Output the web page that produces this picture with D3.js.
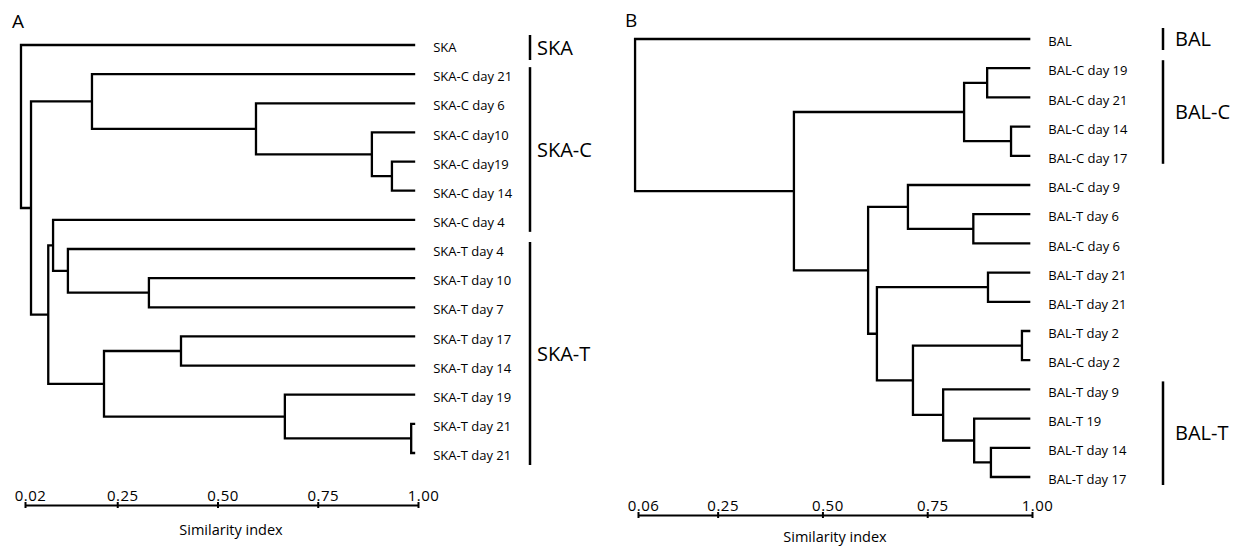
<!DOCTYPE html>
<html>
<head>
<meta charset="utf-8">
<script src="https://cdn.jsdelivr.net/npm/d3@7"></script>
<style>
  body { margin: 0; background: #fff; }
  svg { display: block; font-family: "Open Sans", sans-serif; }
</style>
</head>
<body>
<svg id="chart" width="1235" height="547"></svg>
<script>
//leaf labels, top to bottom
var leavesA = ["SKA", "SKA-C day 21", "SKA-C day 6", "SKA-C day10", "SKA-C day19", "SKA-C day 14",
               "SKA-C day 4", "SKA-T day 4", "SKA-T day 10", "SKA-T day 7", "SKA-T day 17",
               "SKA-T day 14", "SKA-T day 19", "SKA-T day 21", "SKA-T day 21"];
var leavesB = ["BAL", "BAL-C day 19", "BAL-C day 21", "BAL-C day 14", "BAL-C day 17", "BAL-C day 9",
               "BAL-T day 6", "BAL-C day 6", "BAL-T day 21", "BAL-T day 21", "BAL-T day 2",
               "BAL-C day 2", "BAL-T day 9", "BAL-T 19", "BAL-T day 14", "BAL-T day 17"];

//merges: [upper, lower, similarity] - negative = leaf (1-based), positive = earlier merge row
var mergesA = [
  [-5, -6, 0.935], [-4, 1, 0.885], [-3, 2, 0.596], [-2, 3, 0.187],
  [-14, -15, 0.983], [-13, 5, 0.668], [-11, -12, 0.409], [7, 6, 0.217],
  [-9, -10, 0.329], [-8, 9, 0.127], [-7, 10, 0.090], [11, 8, 0.078],
  [4, 12, 0.035], [-1, 13, 0.010]
];
var mergesB = [
  [-2, -3, 0.893], [-4, -5, 0.950], [1, 2, 0.838], [-7, -8, 0.860],
  [-6, 4, 0.704], [-9, -10, 0.895], [-11, -12, 0.976], [-15, -16, 0.902],
  [-14, 8, 0.862], [-13, 9, 0.788], [7, 10, 0.716], [6, 11, 0.630],
  [5, 12, 0.609], [3, 13, 0.432], [-1, 14, 0.053]
];

//groups: [name, first leaf, last leaf] (0-based)
var groupsA = [["SKA", 0, 0], ["SKA-C", 1, 6], ["SKA-T", 7, 14]];
var groupsB = [["BAL", 0, 0], ["BAL-C", 1, 4], ["BAL-T", 12, 15]];

var ticksA = [0.02, 0.25, 0.50, 0.75, 1.00];
var ticksB = [0.06, 0.25, 0.50, 0.75, 1.00];
var leafEndA = 0.993;
var leafEndB = 0.996;

var svg = d3.select("#chart");

var panels = [
  { letter: "A", letterX: 12, letterY: 28, leaves: leavesA, merges: mergesA, groups: groupsA,
    ticks: ticksA, leafEnd: leafEndA, xRange: [25, 418], yRange: [45, 453], axisY: 505,
    titleX: 231, titleY: 535, bracketX: 530, groupLabelX: 537, padTop: -7, padBottom: 12 },
  { letter: "B", letterX: 625, letterY: 27, leaves: leavesB, merges: mergesB, groups: groupsB,
    ticks: ticksB, leafEnd: leafEndB, xRange: [638, 1032], yRange: [39, 477], axisY: 515,
    titleX: 835, titleY: 542, bracketX: 1163, groupLabelX: 1175, padTop: -8, padBottom: 8 }
];

//turn the merge table into a nested object d3.hierarchy understands
var buildTree = function(merges) {
  var nodes = [];
  var ref = function(i) {
    return i < 0 ? { leaf: -i - 1 } : nodes[i - 1];
  };
  merges.forEach(function(m) {
    nodes.push({ value: m[2], children: [ref(m[0]), ref(m[1])] });
  });
  return nodes[nodes.length - 1];
};

var drawPanel = function(cfg) {
  var g = svg.append("g");

  var x = d3.scaleLinear()
            .domain([cfg.ticks[0], 1])
            .range(cfg.xRange);

  var y = d3.scalePoint()
            .domain(d3.range(cfg.leaves.length))
            .range(cfg.yRange);

  var root = d3.hierarchy(buildTree(cfg.merges));

  //positions: leaves from the point scale, inner nodes at midpoint of their children
  root.eachAfter(function(node) {
    if (node.children) {
      node.py = (node.children[0].py + node.children[1].py) / 2;
      node.px = x(node.data.value);
    } else {
      node.py = y(node.data.leaf);
      node.px = x(cfg.leafEnd);
    }
  });

  g.append("text")
   .attr("x", cfg.letterX)
   .attr("y", cfg.letterY)
   .attr("font-size", 19)
   .text(cfg.letter);

  //elbow links
  g.append("g")
   .selectAll("path")
   .data(root.descendants().filter(function(d) { return d.children; }))
   .enter()
   .append("path")
     .attr("d", function(d) {
       var a = d.children[0], b = d.children[1];
       return "M" + a.px + "," + a.py + "H" + d.px + "V" + b.py + "H" + b.px;
     })
     .attr("fill", "none")
     .attr("stroke", "#000")
     .attr("stroke-width", 2.3);

  //leaf labels
  g.append("g")
   .selectAll("text")
   .data(cfg.leaves)
   .enter()
   .append("text")
     .attr("x", x(cfg.leafEnd) + 18)
     .attr("y", function(d, i) { return y(i); })
     .attr("dy", "0.55em")
     .attr("font-size", 13)
     .text(function(d) { return d; });

  //group brackets
  var groups = g.append("g")
                .selectAll("g")
                .data(cfg.groups)
                .enter()
                .append("g");

  groups.append("line")
    .attr("x1", cfg.bracketX)
    .attr("x2", cfg.bracketX)
    .attr("y1", function(d) { return y(d[1]) + cfg.padTop - (d[1] === d[2] ? 3 : 0); })
    .attr("y2", function(d) { return y(d[2]) + cfg.padBottom + (d[1] === d[2] ? 3 : 0); })
    .attr("stroke", "#000")
    .attr("stroke-width", 2.5);

  groups.append("text")
    .attr("x", cfg.groupLabelX)
    .attr("y", function(d) { return (y(d[1]) + cfg.padTop + y(d[2]) + cfg.padBottom) / 2; })
    .attr("dy", "0.36em")
    .attr("font-size", 20)
    .text(function(d) { return d[0]; });

  //similarity axis, labels above the line
  var axis = d3.axisTop(x)
               .tickValues(cfg.ticks)
               .tickFormat(d3.format(".2f"))
               .tickSizeInner(3)
               .tickSizeOuter(0);

  var gAxis = g.append("g")
               .attr("transform", "translate(0," + cfg.axisY + ")")
               .call(axis)
               .attr("font-family", null)
               .attr("font-size", null);

  gAxis.select(".domain").attr("stroke-width", 2);
  gAxis.selectAll(".tick line").attr("y1", -3).attr("y2", 3).attr("stroke-width", 2);
  gAxis.selectAll(".tick text")
       .attr("y", -4)
       .attr("dy", 0)
       .attr("dx", 5)
       .attr("font-size", 15)
       .attr("letter-spacing", 0.5)
       .attr("fill", "#000");

  g.append("text")
   .attr("x", cfg.titleX)
   .attr("y", cfg.titleY)
   .attr("text-anchor", "middle")
   .attr("font-size", 14.5)
   .text("Similarity index");
};

panels.forEach(drawPanel);
</script>
</body>
</html>
